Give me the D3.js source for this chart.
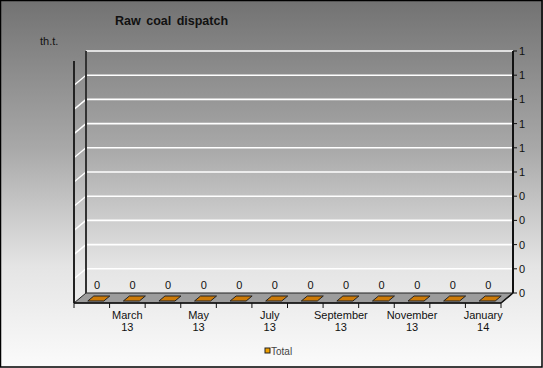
<!DOCTYPE html>
<html><head><meta charset="utf-8">
<script src="https://cdn.jsdelivr.net/npm/d3@7"></script>
<style>html,body{margin:0;padding:0;background:#fff}svg{display:block}</style>
</head><body>
<script>
const months = ["February 13","March 13","April 13","May 13","June 13","July 13","August 13","September 13","October 13","November 13","December 13","January 14"];
const totals = [0,0,0,0,0,0,0,0,0,0,0,0];
const yTicks = [0,0.1,0.2,0.3,0.4,0.5,0.6,0.7,0.8,0.9,1];
const title = "Raw coal dispatch";
const unit = "th.t.";
const seriesName = "Total";

const W = 543, H = 368;
const svg = d3.select("body").append("svg").attr("width", W).attr("height", H);
const defs = svg.append("defs");
const g1 = defs.append("linearGradient").attr("id","bg").attr("x1",0).attr("y1",0).attr("x2",0).attr("y2",1);
g1.append("stop").attr("offset","0%").attr("stop-color","#727272");
g1.append("stop").attr("offset","40%").attr("stop-color","#a8a8a8");
g1.append("stop").attr("offset","72%").attr("stop-color","#e4e4e4");
g1.append("stop").attr("offset","100%").attr("stop-color","#fbfbfb");
svg.append("rect").attr("width",W).attr("height",H).attr("fill","url(#bg)");

// geometry
const fx0 = 74, fx1 = 501, fy0 = 303; // front floor edge
const DX = 12, DY = 10;                // depth offset
const yTop = 61;                        // front top
const x = d3.scaleBand().domain(months).range([fx0, fx1]).padding(0);
const y = d3.scaleLinear().domain([0,1]).range([fy0, yTop]);
const P = (px, py, z) => [px + DX*z, py - DY*z];

// floor
const floor = [P(fx0,fy0,0),P(fx1,fy0,0),P(fx1,fy0,1),P(fx0,fy0,1)];
svg.append("polygon").attr("points", floor.map(p=>p.join(",")).join(" "))
  .attr("fill","#9c9c9c").attr("stroke","#222").attr("stroke-width",1);

// gridlines
yTicks.forEach(t => {
  const yy = y(t);
  const b0 = P(fx0, yy, 1), b1 = P(fx1, yy, 1), s0 = P(fx0, yy, 0);
  if (t > 0) {
    svg.append("line").attr("x1",b0[0]).attr("y1",b0[1]).attr("x2",b1[0]).attr("y2",b1[1])
      .attr("stroke","#fff").attr("stroke-width",1.6);
    svg.append("line").attr("x1",s0[0]).attr("y1",s0[1]).attr("x2",b0[0]).attr("y2",b0[1])
      .attr("stroke", t===1 ? "#888" : "#fff").attr("stroke-width",1.4)
      .attr("stroke-dasharray", t===1 ? "2,2" : null);
  }
});

// walls edges
const bl0 = P(fx0, fy0, 1), bl1 = P(fx0, yTop, 1);
svg.append("line").attr("x1",bl0[0]).attr("y1",bl0[1]).attr("x2",bl1[0]).attr("y2",bl1[1])
  .attr("stroke","#333").attr("stroke-width",2);
svg.append("line").attr("x1",fx0).attr("y1",fy0).attr("x2",fx0).attr("y2",yTop)
  .attr("stroke","#222").attr("stroke-width",2);

// right value axis on back wall
const br0 = P(fx1, fy0, 1), br1 = P(fx1, yTop, 1);
svg.append("line").attr("x1",br0[0]).attr("y1",br0[1]).attr("x2",br1[0]).attr("y2",br1[1])
  .attr("stroke","#111").attr("stroke-width",2);
yTicks.forEach(t => {
  const p = P(fx1, y(t), 1);
  svg.append("line").attr("x1",p[0]).attr("y1",p[1]).attr("x2",p[0]+4).attr("y2",p[1])
    .attr("stroke","#111").attr("stroke-width",1);
  svg.append("text").attr("x",p[0]+6).attr("y",p[1]+4).text(Math.round(t))
    .attr("font-family","Liberation Sans, Arial, sans-serif").attr("font-size",11).attr("fill","#111");
});

// bars (zero height, drawn as flat tops)
const bw = x.bandwidth();
months.forEach((m,i) => {
  const v = totals[i];
  const xa = x(m) + bw*0.32, xb = x(m) + bw*0.77;
  const yv = y(v);
  const z0 = 0.2, z1 = 0.7;
  const top = [P(xa,yv,z0),P(xb,yv,z0),P(xb,yv,z1),P(xa,yv,z1)];
  svg.append("polygon").attr("points", top.map(p=>p.join(",")).join(" "))
    .attr("fill","#cc7a08").attr("stroke","#222").attr("stroke-width",1);
  const c = P((xa+xb)/2, yv, 0.3);
  svg.append("text").attr("x",c[0]).attr("y",yv-14).attr("text-anchor","middle").text(v)
    .attr("font-family","Liberation Sans, Arial, sans-serif").attr("font-size",11).attr("fill","#111");
});

// category axis
svg.append("line").attr("x1",fx0).attr("y1",fy0).attr("x2",fx1).attr("y2",fy0).attr("stroke","#111").attr("stroke-width",1.5);
const fr = P(fx1,fy0,1);
svg.append("line").attr("x1",fx1).attr("y1",fy0).attr("x2",fr[0]).attr("y2",fr[1]).attr("stroke","#111").attr("stroke-width",1.5);
months.forEach((m,i) => {
  svg.append("line").attr("x1",x(m)).attr("y1",fy0).attr("x2",x(m)).attr("y2",fy0+5).attr("stroke","#111");
});
svg.append("line").attr("x1",fx1).attr("y1",fy0).attr("x2",fx1).attr("y2",fy0+5).attr("stroke","#111");
months.forEach((m,i) => {
  if (i % 2 === 1) {
    const parts = m.split(" ");
    const t = svg.append("text").attr("x", x(m)+bw/2).attr("y", 319).attr("text-anchor","middle")
      .attr("font-family","Liberation Sans, Arial, sans-serif").attr("font-size",11).attr("fill","#111");
    t.append("tspan").attr("x", x(m)+bw/2).attr("dy",0).text(parts[0]);
    t.append("tspan").attr("x", x(m)+bw/2).attr("dy",12).text(parts[1]);
  }
});

// title & unit
svg.append("text").attr("x",115).attr("y",25).text(title)
  .attr("font-family","Liberation Sans, Arial, sans-serif").attr("font-size",12.5).attr("font-weight","bold")
  .attr("word-spacing",2).attr("fill","#111");
svg.append("text").attr("x",40).attr("y",45).text(unit)
  .attr("font-family","Liberation Sans, Arial, sans-serif").attr("font-size",11).attr("fill","#111");

// legend
svg.append("rect").attr("x",265).attr("y",348).attr("width",5).attr("height",5)
  .attr("fill","#f0a000").attr("stroke","#222").attr("stroke-width",1);
svg.append("text").attr("x",271).attr("y",355).text(seriesName)
  .attr("font-family","Liberation Sans, Arial, sans-serif").attr("font-size",10).attr("fill","#444");

// border
svg.append("rect").attr("x",0.5).attr("y",0.5).attr("width",W-1.5).attr("height",H-1.5)
  .attr("fill","none").attr("stroke","#000").attr("stroke-width",1.5);
</script>
</body></html>
